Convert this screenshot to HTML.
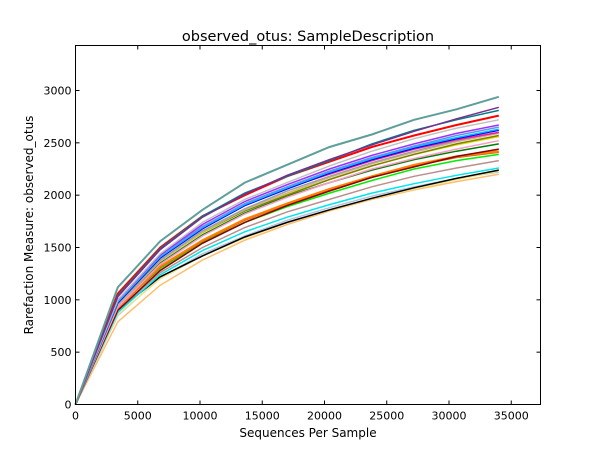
<!DOCTYPE html>
<html><head><meta charset="utf-8"><style>
body{margin:0;background:#fff}
svg{display:block;font-family:"DejaVu Sans","Liberation Sans",sans-serif}
</style></head><body>
<svg id="chart" width="600" height="450" viewBox="0 0 600 450">
<rect x="0" y="0" width="600" height="450" fill="#fff"/>
<text x="308" y="41" text-anchor="middle" font-size="14.5">observed_otus: SampleDescription</text>
<g id="lines"></g>
<g id="ticks"></g>
<rect x="75.5" y="45.5" width="465" height="359" fill="none" stroke="#000" stroke-width="1"/>
<text x="308" y="437" text-anchor="middle" font-size="12">Sequences Per Sample</text>
<text transform="translate(33,225) rotate(-90)" text-anchor="middle" font-size="12">Rarefaction Measure: observed_otus</text>
</svg>
<script>
const xSeqs=[0,3400,6800,10200,13600,17000,20400,23800,27200,30600,34000];
const xTicks=[0,5000,10000,15000,20000,25000,30000,35000];
const yTicks=[0,500,1000,1500,2000,2500,3000];
const seriesColors=["#fdbf6f","#b0c4de","#f0e68c","#000000","#00e5ee","#bc8f8f","#00ee00","#d2691e","#ff7f00","#8b0000","#008000","#ff99cc","#dddd00","#808000","#d2b48c","#a0a0a0","#ff1493","#0000ff","#00bfff","#6495ed","#9b30ff","#c0c0c0","#ff0000","#008080","#7b2d8f","#5f9e9a"];
const s0=[0,790,1140,1380,1570,1720,1850,1960,2050,2130,2200];
const s1=[0,850,1210,1440,1610,1760,1880,1990,2080,2160,2220];
const s2=[0,860,1200,1420,1590,1740,1860,1970,2060,2150,2230];
const s3=[0,900,1220,1420,1600,1740,1860,1970,2070,2160,2240];
const s4=[0,880,1240,1470,1650,1790,1910,2020,2110,2190,2260];
const s5=[0,900,1260,1500,1690,1840,1960,2080,2180,2260,2330];
const s6=[0,930,1300,1550,1740,1890,2020,2140,2250,2330,2390];
const s7=[0,920,1310,1560,1760,1910,2050,2170,2280,2360,2410];
const s8=[0,930,1320,1570,1770,1920,2060,2180,2290,2370,2420];
const s9=[0,900,1280,1540,1740,1900,2040,2170,2270,2370,2440];
const s10=[0,940,1350,1620,1830,1990,2120,2240,2340,2420,2490];
const s11=[0,930,1340,1610,1820,1980,2120,2250,2350,2440,2520];
const s12=[0,950,1370,1640,1850,2010,2150,2280,2390,2480,2560];
const s13=[0,960,1380,1650,1850,2000,2150,2280,2390,2490,2570];
const s14=[0,950,1370,1650,1860,2020,2170,2300,2410,2510,2590];
const s15=[0,960,1380,1660,1870,2040,2180,2310,2420,2520,2600];
const s16=[0,990,1420,1700,1900,2070,2200,2330,2440,2530,2600];
const s17=[0,970,1400,1680,1900,2060,2210,2340,2450,2540,2620];
const s18=[0,980,1410,1690,1910,2070,2220,2350,2460,2550,2630];
const s19=[0,990,1420,1700,1920,2080,2230,2360,2470,2570,2650];
const s20=[0,1000,1430,1720,1940,2100,2250,2380,2490,2590,2670];
const s21=[0,1000,1440,1740,1960,2120,2280,2420,2540,2640,2720];
const s22=[0,1060,1500,1800,2000,2180,2320,2460,2570,2670,2760];
const s23=[0,1040,1490,1800,2020,2180,2330,2490,2620,2720,2810];
const s24=[0,1030,1480,1790,2010,2190,2340,2480,2610,2730,2840];
const s25=[0,1120,1560,1860,2120,2290,2460,2580,2720,2820,2940];
const allSeries=[s0,s1,s2,s3,s4,s5,s6,s7,s8,s9,s10,s11,s12,s13,s14,s15,s16,s17,s18,s19,s20,s21,s22,s23,s24,s25];

const NS="http://www.w3.org/2000/svg";
const X0=75.5,X1=540.5,Y0=404.5,Y1=45.5,XMAX=37350,YMAX=3430;
function xs(v){return X0+v/XMAX*(X1-X0);}
function ys(v){return Y0-v/YMAX*(Y0-Y1);}
const lines=document.getElementById('lines');
allSeries.forEach((s,i)=>{
  const p=document.createElementNS(NS,'polyline');
  p.setAttribute('points',s.map((v,j)=>xs(xSeqs[j]).toFixed(1)+','+ys(v).toFixed(1)).join(' '));
  p.setAttribute('fill','none');
  p.setAttribute('stroke',seriesColors[i]);
  p.setAttribute('stroke-width',i===8||i===22||i===25?2:1.5);
  
  
  lines.appendChild(p);
});
const ticks=document.getElementById('ticks');
xTicks.forEach(t=>{
  const x=xs(t);
  const a=document.createElementNS(NS,'line');
  a.setAttribute('x1',x);a.setAttribute('x2',x);a.setAttribute('y1',Y0);a.setAttribute('y2',Y0-4);a.setAttribute('stroke','#000');
  
  
  ticks.appendChild(a);
  const b=document.createElementNS(NS,'line');
  b.setAttribute('x1',x);b.setAttribute('x2',x);b.setAttribute('y1',Y1);b.setAttribute('y2',Y1+4);b.setAttribute('stroke','#000');
  
  
  ticks.appendChild(b);
  const tx=document.createElementNS(NS,'text');
  tx.setAttribute('x',x);tx.setAttribute('y',Y0+15);tx.setAttribute('text-anchor','middle');tx.setAttribute('font-size','11');
  tx.textContent=t;
  
  
  ticks.appendChild(tx);
});
yTicks.forEach(t=>{
  const y=ys(t);
  const a=document.createElementNS(NS,'line');
  a.setAttribute('x1',X0);a.setAttribute('x2',X0+4);a.setAttribute('y1',y);a.setAttribute('y2',y);a.setAttribute('stroke','#000');
  
  
  ticks.appendChild(a);
  const b=document.createElementNS(NS,'line');
  b.setAttribute('x1',X1);b.setAttribute('x2',X1-4);b.setAttribute('y1',y);b.setAttribute('y2',y);b.setAttribute('stroke','#000');
  
  
  ticks.appendChild(b);
  const tx=document.createElementNS(NS,'text');
  tx.setAttribute('x',X0-4);tx.setAttribute('y',y+4);tx.setAttribute('text-anchor','end');tx.setAttribute('font-size','11');
  tx.textContent=t;
  
  
  ticks.appendChild(tx);
});
</script>
</body></html>
